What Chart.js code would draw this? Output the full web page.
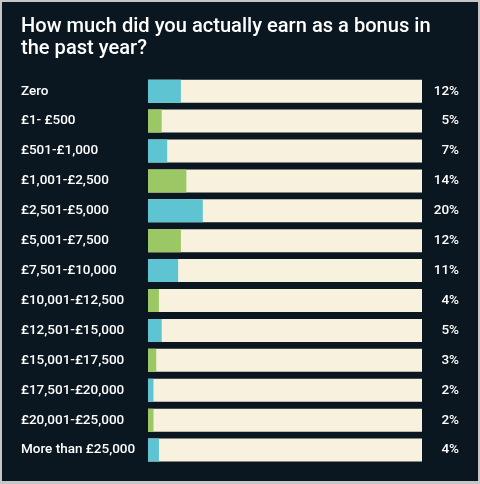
<!DOCTYPE html>
<html>
<head>
<meta charset="utf-8">
<script src="https://cdn.jsdelivr.net/npm/chart.js@4/dist/chart.umd.min.js"></script>
<style>
  html, body { margin: 0; padding: 0; background: #ffffff; }
  #wrap {
    width: 476px; height: 479px;
    border: 2px solid #c4c6c8; border-bottom-width: 3px;
    background: #0b1720;
  }
</style>
</head>
<body>
<div id="wrap"><canvas id="bonus-chart" width="476" height="479"></canvas></div>
<script>
const titleLines = ["How much did you actually earn as a bonus in", "the past year?"];
const bands = ["Zero", "£1- £500", "£501-£1,000", "£1,001-£2,500", "£2,501-£5,000", "£5,001-£7,500",
  "£7,501-£10,000", "£10,001-£12,500", "£12,501-£15,000", "£15,001-£17,500", "£17,501-£20,000",
  "£20,001-£25,000", "More than £25,000"];
const shares = [12, 5, 7, 14, 20, 12, 11, 4, 5, 3, 2, 2, 4];
const shareLabels = ["12%", "5%", "7%", "14%", "20%", "12%", "11%", "4%", "5%", "3%", "2%", "2%", "4%"];
const trackTotal = [100, 100, 100, 100, 100, 100, 100, 100, 100, 100, 100, 100, 100];

const cyan = "#5ec4d1";
const green = "#9cc765";
const cream = "#f8f1dd";

const ctx = document.getElementById("bonus-chart");

new Chart(ctx, {
  type: "bar",
  data: {
    labels: bands,
    datasets: [{
      label: "Share",
      data: shares,
      backgroundColor: shares.map((v, i) => i % 2 === 0 ? cyan : green),
      yAxisID: "y",
      order: 0,
      grouped: false,
      barPercentage: 0.77,
      categoryPercentage: 1
    }, {
      label: "Track",
      data: trackTotal,
      backgroundColor: cream,
      yAxisID: "y",
      order: 1,
      grouped: false,
      barPercentage: 0.77,
      categoryPercentage: 1
    }]
  },
  options: {
    indexAxis: "y",
    responsive: false,
    animation: false,
    layout: { padding: { left: 19, right: 19, top: 0, bottom: 16 } },
    plugins: {
      legend: { display: false },
      tooltip: { enabled: false },
      title: {
        display: true,
        text: titleLines,
        align: "start",
        color: "#ffffff",
        font: { family: "Roboto", size: 20.1, weight: "500", lineHeight: 1.1 },
        padding: { top: 14, bottom: 16 }
      }
    },
    scales: {
      x: { display: false, min: 0, max: 100 },
      y: {
        position: "left",
        grid: { display: false },
        border: { display: false },
        ticks: { color: "#ffffff", crossAlign: "far", padding: 0, font: { family: "Roboto", size: 13.5, weight: "500" } },
        afterFit: (axis) => { axis.width = 127; }
      },
      pct: {
        type: "category",
        position: "right",
        labels: shareLabels,
        grid: { display: false },
        border: { display: false },
        ticks: { color: "#ffffff", crossAlign: "far", padding: 0, font: { family: "Roboto", size: 13.5, weight: "500" } },
        afterFit: (axis) => { axis.width = 37; }
      }
    }
  }
});
</script>
</body>
</html>
